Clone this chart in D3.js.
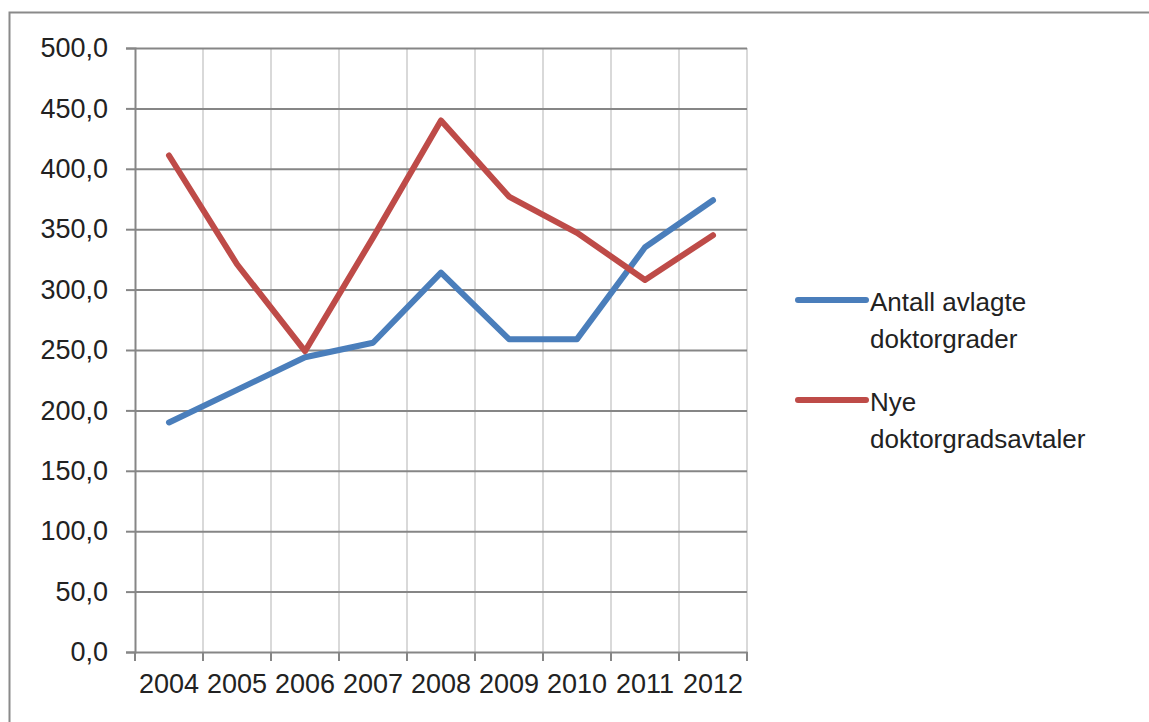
<!DOCTYPE html>
<html>
<head>
<meta charset="utf-8">
<script src="https://cdn.jsdelivr.net/npm/d3@7"></script>
<style>
  body { margin: 0; background: #fff; }
  svg text { font-family: "Liberation Sans", Arial, sans-serif; fill: #222; }
</style>
</head>
<body>
<div id="root"></div>
<script>
const years = ['2004', '2005', '2006', '2007', '2008', '2009', '2010', '2011', '2012'];
const avlagte = [190, 217, 244, 256, 314, 259, 259, 335, 374];
const nyeAvtaler = [411, 321, 249, 343, 440, 377, 347, 308, 345];
const yTicks = [0, 50, 100, 150, 200, 250, 300, 350, 400, 450, 500];
const seriesNames = [['Antall avlagte', 'doktorgrader'], ['Nye', 'doktorgradsavtaler']];
const colors = ['#4a7ebb', '#be4b48'];

const w = 1149;
const h = 722;

const svg = d3.select('#root')
  .append('svg')
  .attr('width', w)
  .attr('height', h);

// cornice
svg.append('rect')
  .attr('x', 9.5)
  .attr('y', 12.5)
  .attr('width', w + 20)
  .attr('height', h + 20)
  .attr('fill', 'none')
  .attr('stroke', '#8a8a8a')
  .attr('stroke-width', 2);

const xScale = d3.scaleBand()
  .domain(years)
  .range([135, 747]);

const yScale = d3.scaleLinear()
  .domain([0, 500])
  .range([652, 48]);

// griglia verticale
svg.append('g')
  .selectAll('line')
  .data(years)
  .enter()
  .append('line')
  .attr('x1', d => xScale(d) + xScale.bandwidth())
  .attr('x2', d => xScale(d) + xScale.bandwidth())
  .attr('y1', yScale(500))
  .attr('y2', yScale(0))
  .attr('stroke', '#d9d9d9')
  .attr('stroke-width', 2);

// asse y con griglia orizzontale
const yAxis = d3.axisLeft(yScale)
  .tickValues(yTicks)
  .tickSize(9)
  .tickPadding(18)
  .tickFormat(d => d3.format('.1f')(d).replace('.', ','));
const gy = svg.append('g')
  .attr('transform', 'translate(135, 0)')
  .call(yAxis);
gy.select('.domain').attr('stroke', '#868686').attr('stroke-width', 2);
gy.selectAll('.tick line').attr('stroke', '#868686').attr('stroke-width', 2);
gy.selectAll('.tick text').style('font-size', '27px').attr('fill', '#222');
gy.selectAll('.tick')
  .filter(d => d > 0)
  .append('line')
  .attr('x1', 0)
  .attr('x2', 612)
  .attr('stroke', '#868686')
  .attr('stroke-width', 2);

// asse x
const xAxis = d3.axisBottom(xScale).tickSize(0).tickPadding(22);
const gx = svg.append('g')
  .attr('transform', 'translate(0, 652)')
  .call(xAxis);
gx.select('.domain').attr('stroke', '#868686').attr('stroke-width', 2);
gx.selectAll('.tick text').style('font-size', '27px').attr('fill', '#222');
svg.append('g')
  .selectAll('line')
  .data(['start'].concat(years))
  .enter()
  .append('line')
  .attr('x1', (d, i) => i === 0 ? xScale.range()[0] : xScale(d) + xScale.bandwidth())
  .attr('x2', (d, i) => i === 0 ? xScale.range()[0] : xScale(d) + xScale.bandwidth())
  .attr('y1', 652)
  .attr('y2', 661)
  .attr('stroke', '#868686')
  .attr('stroke-width', 2);

// linee
const line = d3.line()
  .x((d, i) => xScale(years[i]) + xScale.bandwidth() / 2)
  .y(d => yScale(d));

[avlagte, nyeAvtaler].forEach((s, k) => {
  svg.append('path')
    .datum(s)
    .attr('d', line)
    .attr('fill', 'none')
    .attr('stroke', colors[k])
    .attr('stroke-width', 6)
    .attr('stroke-linejoin', 'round')
    .attr('stroke-linecap', 'round');
});

// legenda
const legend = svg.append('g');
seriesNames.forEach((names, k) => {
  const y0 = 300 + k * 100;
  legend.append('line')
    .attr('x1', 798)
    .attr('x2', 866)
    .attr('y1', y0)
    .attr('y2', y0)
    .attr('stroke', colors[k])
    .attr('stroke-width', 6)
    .attr('stroke-linecap', 'round');
  names.forEach((t, j) => {
    legend.append('text')
      .attr('x', 870)
      .attr('y', y0 + 11 + j * 37)
      .style('font-size', '26px')
      .text(t);
  });
});
</script>
</body>
</html>
